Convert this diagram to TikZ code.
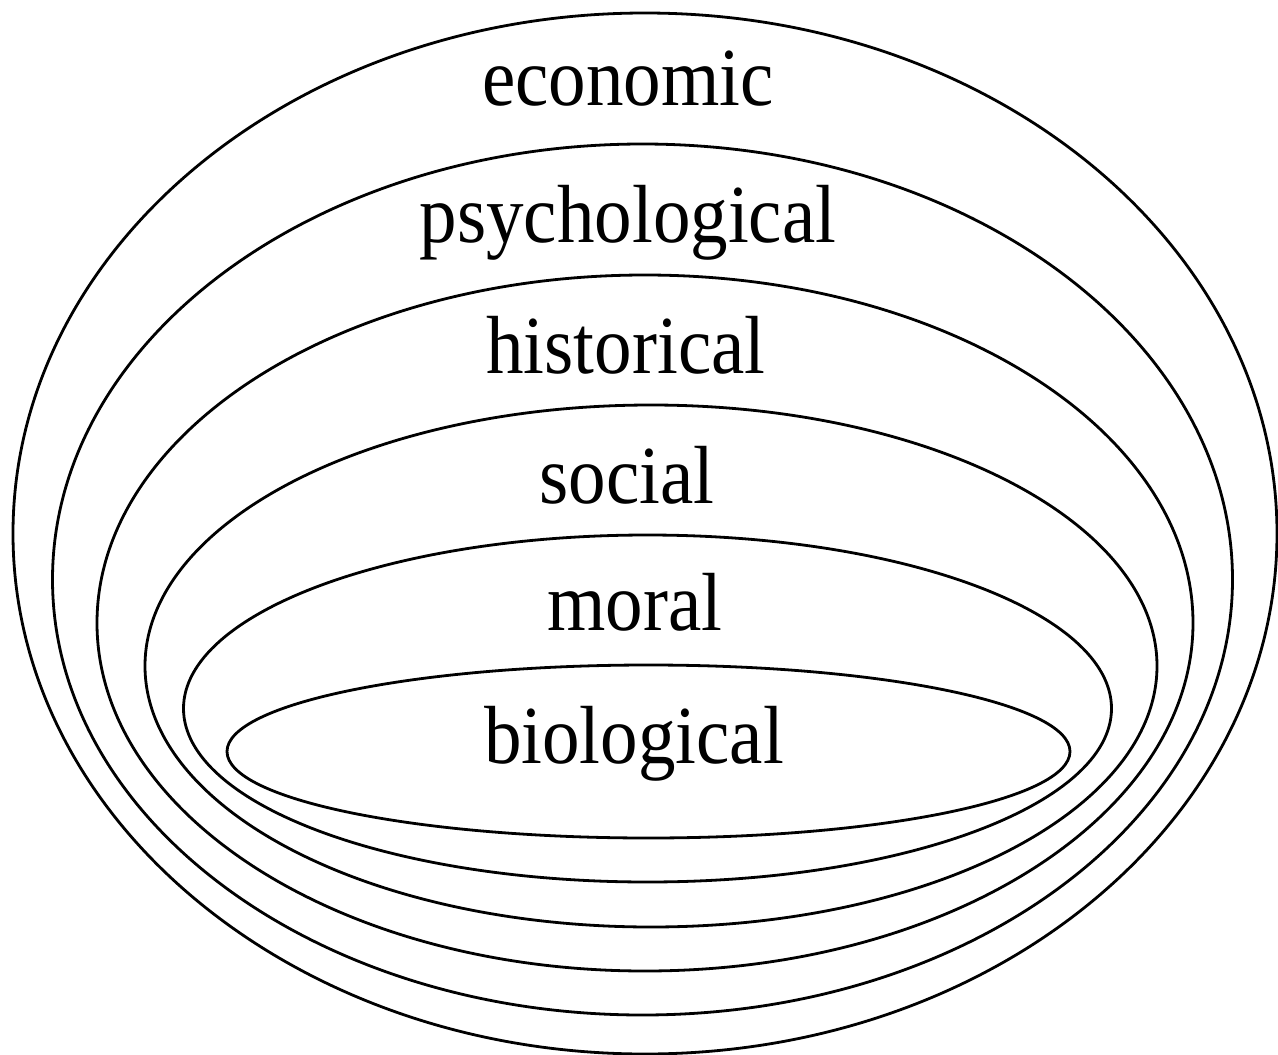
\documentclass[tikz,border=0pt]{standalone}
\usepackage{graphicx}
\usepackage{fontspec}
\setmainfont{Liberation Serif}
\newcommand{\tallword}[1]{\scalebox{1}[1.1]{#1}}
\begin{document}
\begin{tikzpicture}[x=1pt,y=-1pt,
  ring/.style={draw=black,line width=2.8pt},
  lbl/.style={anchor=base,inner sep=0pt,font=\fontsize{75}{90}\selectfont}]
\useasboundingbox (0,0) rectangle (1278,1055);
% nested layers, outermost first
\draw[ring] (645,533.5) ellipse [x radius=632,y radius=520.5];
\draw[ring] (642.5,579.5) ellipse [x radius=590,y radius=435.5];
\draw[ring] (645,623) ellipse [x radius=548,y radius=348];
\draw[ring] (651,666) ellipse [x radius=506,y radius=261];
\draw[ring] (647.5,708.5) ellipse [x radius=464,y radius=173.5];
\draw[ring] (648.5,751.5) ellipse [x radius=421.5,y radius=86.5];
% layer names
\node[lbl] (eco) at (628,105) {\tallword{economic}};
\node[lbl] (psy) at (628,242) {\tallword{psychological}};
\node[lbl] (his) at (626,373) {\tallword{historical}};
\node[lbl] (soc) at (627,503) {\tallword{social}};
\node[lbl] (mor) at (635,630) {\tallword{moral}};
\node[lbl] (bio) at (634,763) {\tallword{biological}};
\end{tikzpicture}
\end{document}
